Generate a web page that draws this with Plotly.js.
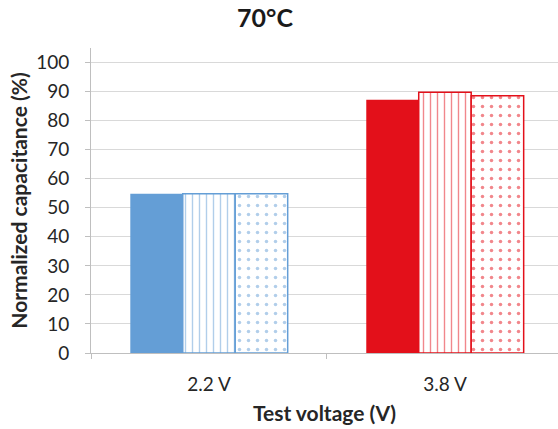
<!DOCTYPE html>
<html>
<head>
<meta charset="utf-8">
<script src="https://cdn.plot.ly/plotly-3.0.1.min.js"></script>
<style>html,body{margin:0;padding:0;background:#fff;}#chart{width:558px;height:429px;}</style>
</head>
<body>
<div id="chart"></div>
<script>
const categories = ['2.2 V', '3.8 V'];
const solidValues = [54.8, 87.2];
const dashedValues = [54.8, 89.8];
const dottedValues = [54.8, 88.6];
const barColors = ['#649ED6', '#E3101A'];
const yTicks = [0, 10, 20, 30, 40, 50, 60, 70, 80, 90, 100];

const FONT = 'Lato, "Open Sans", sans-serif';

const traces = [
  {
    type: 'bar', x: categories, y: solidValues,
    marker: {color: barColors, line: {color: barColors, width: 0}},
    hoverinfo: 'skip'
  },
  {
    type: 'bar', x: categories, y: dashedValues,
    marker: {
      color: '#ffffff',
      line: {color: barColors, width: 1.5},
      pattern: {shape: '|', fgcolor: barColors, bgcolor: '#ffffff', size: 7, solidity: 0.2, fillmode: 'overlay'}
    },
    hoverinfo: 'skip'
  },
  {
    type: 'bar', x: categories, y: dottedValues,
    marker: {
      color: '#ffffff',
      line: {color: barColors, width: 1.5},
      pattern: {shape: '.', fgcolor: barColors, bgcolor: '#ffffff', size: 9, solidity: 0.12, fillmode: 'overlay'}
    },
    hoverinfo: 'skip'
  }
];

const layout = {
  width: 558, height: 429,
  margin: {l: 91, r: 0, t: 48, b: 76},
  paper_bgcolor: '#ffffff', plot_bgcolor: '#ffffff',
  showlegend: false,
  barmode: 'group', bargap: 0.333, bargroupgap: 0,
  font: {family: FONT, color: '#262626'},
  title: {
    text: '<b>70°C</b>', x: 265/558, xanchor: 'center', y: 1 - 18/429, yanchor: 'middle',
    font: {family: FONT, size: 25, color: '#1a1a1a'}
  },
  xaxis: {
    type: 'category', range: [-0.5, 1.479],
    showline: true, linecolor: '#bfbfbf', linewidth: 1,
    ticks: 'outside', tickson: 'boundaries', ticklen: 5, tickcolor: '#bfbfbf',
    ticklabelstandoff: 14,
    showgrid: false, zeroline: false,
    tickfont: {family: FONT, size: 19, color: '#262626'},
    title: {text: '<b>Test voltage (V)</b>', font: {family: FONT, size: 21, color: '#262626'}, standoff: 12}
  },
  yaxis: {
    range: [0, 105], tickvals: yTicks, ticktext: yTicks.map(String),
    showline: true, linecolor: '#bfbfbf', linewidth: 1,
    ticks: 'outside', ticklen: 5, tickcolor: '#bfbfbf',
    ticklabelstandoff: 12,
    showgrid: true, gridcolor: '#d9d9d9', gridwidth: 1, zeroline: false,
    tickfont: {family: FONT, size: 19, color: '#262626'},
    title: {text: '<b>Normalized capacitance (%)</b>', font: {family: FONT, size: 21, color: '#262626'}, standoff: 2}
  }
};

Plotly.newPlot('chart', traces, layout, {staticPlot: true, displayModeBar: false});
</script>
</body>
</html>
